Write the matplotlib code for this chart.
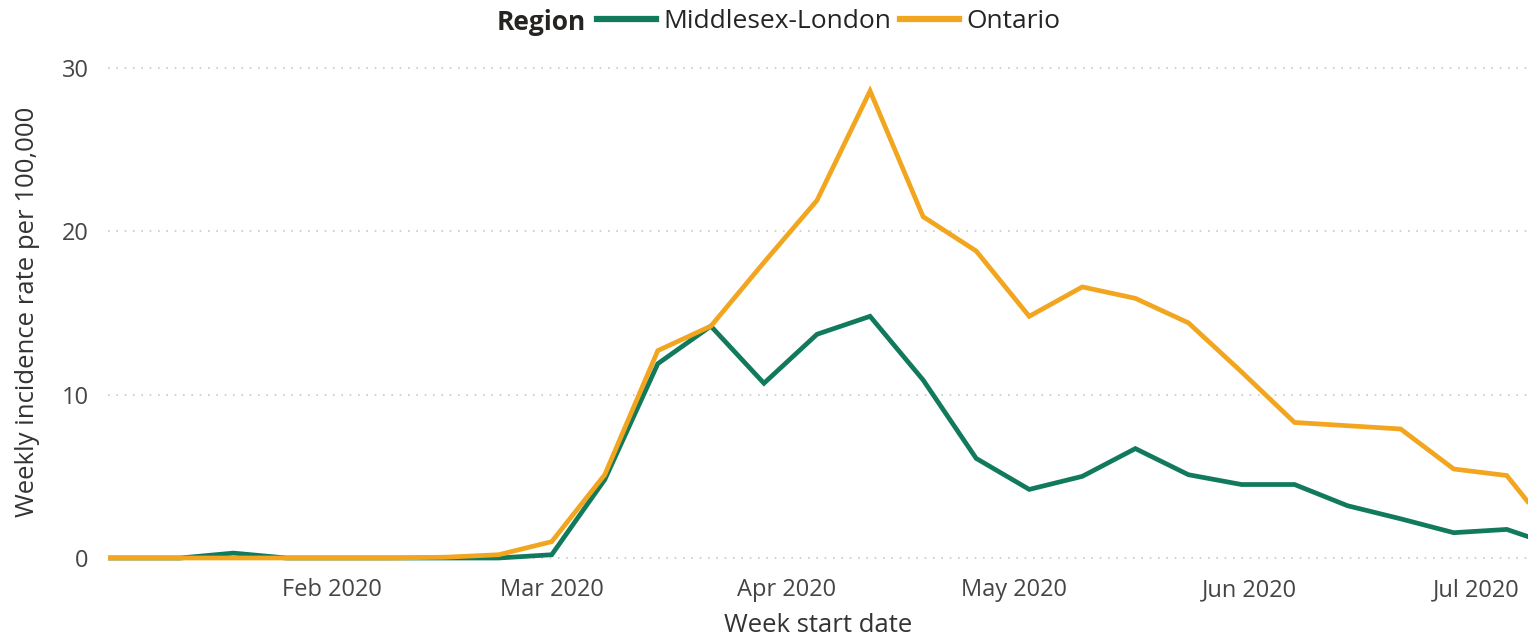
import matplotlib
matplotlib.use("Agg")
import matplotlib.pyplot as plt
import matplotlib.dates as mdates
import numpy as np
import pandas as pd
from matplotlib.lines import Line2D

plt.rcParams['font.family'] = ['Open Sans', 'DejaVu Sans']

# ---- data ----
week_start = pd.date_range("2019-12-29", "2020-07-12", freq="7D")
middlesex_london = [0, 0, 0, 0.3, 0, 0, 0, 0, 0, 0.2,
                    4.8, 11.9, 14.2, 10.7, 13.7, 14.8, 10.9, 6.1,
                    4.2, 5.0, 6.7, 5.1, 4.5, 4.5, 3.2, 2.4, 1.55, 1.75, 0.65]
ontario = [0, 0, 0, 0, 0, 0, 0, 0.05, 0.2, 1.0,
           5.1, 12.7, 14.2, 18.1, 21.9, 28.6, 20.9, 18.8,
           14.8, 16.6, 15.9, 14.4, 11.4, 8.3, 8.1, 7.9, 5.45, 5.05, 1.0]
series_names = ["Middlesex-London", "Ontario"]
series_colors = ["#117A5C", "#F2A51F"]
y_ticks = [0, 10, 20, 30]
x_ticks = pd.to_datetime(["2020-02-01", "2020-03-01", "2020-04-01",
                          "2020-05-01", "2020-06-01", "2020-07-01"])

W, H = 1528, 640
fig = plt.figure(figsize=(W / 100, H / 100), dpi=100)
# axes placement in pixels
px_per_unit = 16.33
ymin, ymax = -0.3, 30.3
y0_px = 558.0
bottom_px = y0_px + (0 - ymin) * px_per_unit
top_px = y0_px - (ymax - 0) * px_per_unit
left_px, right_px = 108.0, 1528.0
ax = fig.add_axes([left_px / W, 1 - bottom_px / H,
                   (right_px - left_px) / W, (bottom_px - top_px) / H])

for vals, name, col in zip([middlesex_london, ontario], series_names, series_colors):
    ax.plot(week_start, vals, color=col, lw=3.4, label=name,
            solid_joinstyle='miter', solid_capstyle='butt')

# x range: Mar 1 at px 551.7, 7.58 px/day
ref = pd.Timestamp("2020-03-01")
ppd = 7.58
xl = ref - pd.Timedelta(days=(551.7 - left_px) / ppd)
xr = ref + pd.Timedelta(days=(right_px - 551.7) / ppd)
ax.set_xlim(xl, xr)
ax.set_ylim(ymin, ymax)

ax.set_yticks(y_ticks)
ax.set_xticks(x_ticks)
ax.xaxis.set_major_formatter(mdates.DateFormatter("%b %Y"))
ax.tick_params(axis='both', length=0, labelsize=17, labelcolor="#454545")
ax.tick_params(axis='y', pad=14)
ax.tick_params(axis='x', pad=11)

for s in ax.spines.values():
    s.set_visible(False)
ax.grid(axis='y', color="#C8C8C8", linestyle=(0, (1, 4)), linewidth=1.2)
ax.grid(axis='x', visible=False)
ax.set_axisbelow(True)

fig.text(818 / W, 1 - 626 / H, "Week start date", ha='center', va='center',
         fontsize=18.5, color="#333333")
fig.text(28 / W, 1 - 312 / H, "Weekly incidence rate per 100,000", ha='center',
         va='center', rotation=90, fontsize=18.5, color="#333333")

# legend
fig.text(586 / W, 1 - 22 / H, "Region", ha='right', va='center',
         fontsize=19, fontweight='bold', color="#252423")
handles = [Line2D([], [], color=c, lw=4.5) for c in series_colors]
leg = fig.legend(handles, series_names, loc='center left',
                 bbox_to_anchor=(597 / W, 1 - 22 / H), ncol=2, frameon=False,
                 fontsize=19, handlelength=2.25, handletextpad=0.25,
                 columnspacing=0.35, borderaxespad=0, borderpad=0)
for t in leg.get_texts():
    t.set_color("#252423")

fig.savefig("out.png", dpi=100)
